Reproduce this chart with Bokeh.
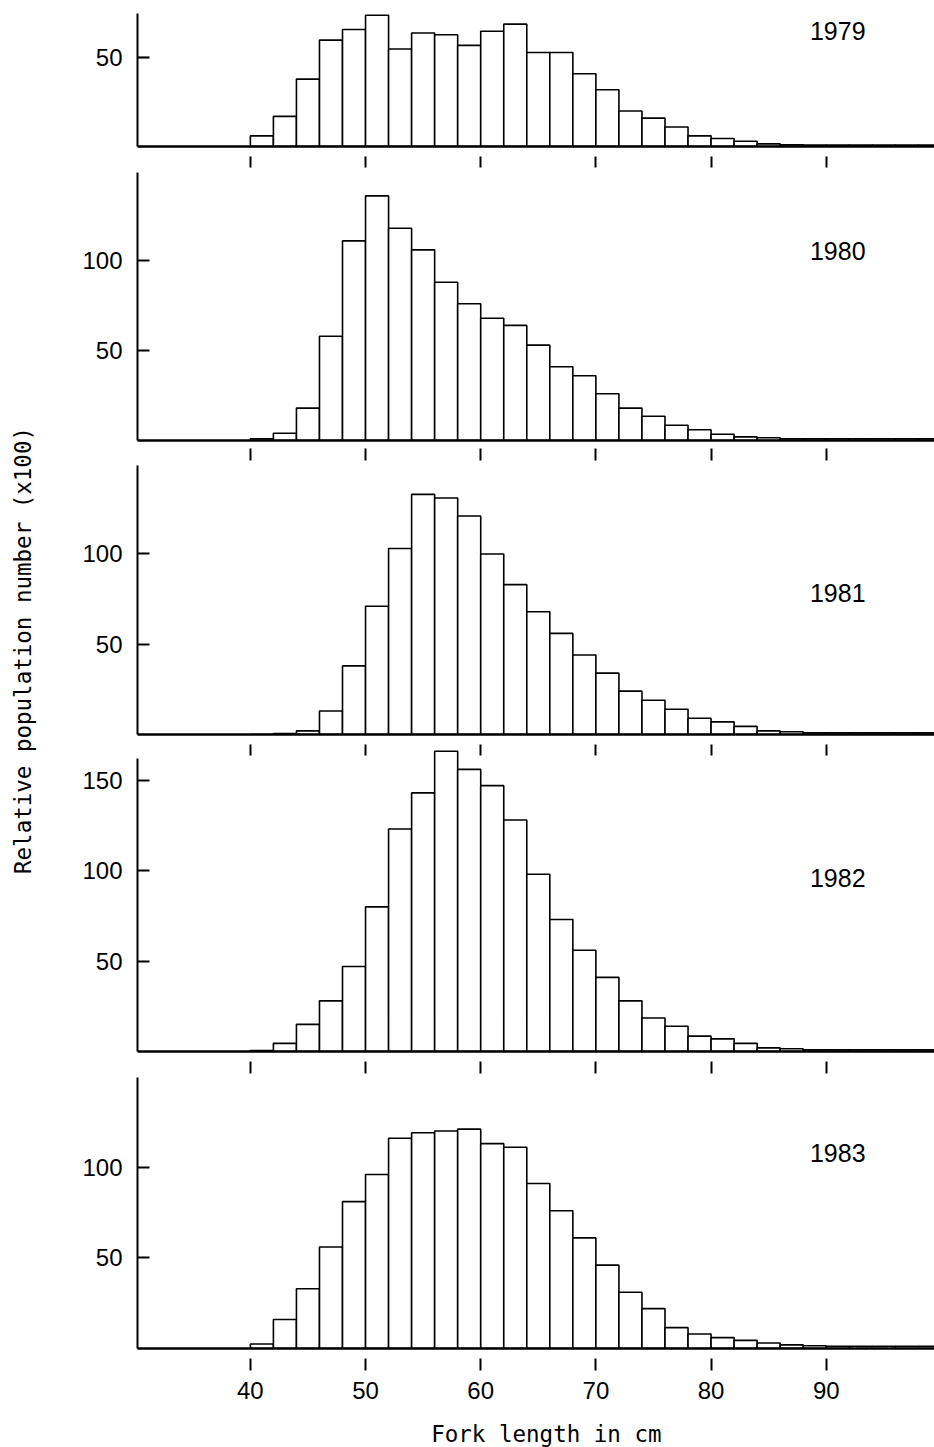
import math
from bokeh.plotting import figure
from bokeh.layouts import column, row
from bokeh.models import (FixedTicker, Label, Range1d, ColumnDataSource, LinearAxis,
                          CustomLabelingPolicy)
from bokeh.embed import file_html
from bokeh.resources import INLINE
from bokeh.core.properties import value

# ---------------- data ----------------
bin_left = list(range(40, 100, 2))   # 2-cm length classes, 40..98
bin_width = 2

years = ["1979", "1980", "1981", "1982", "1983"]

pop_1979 = [6, 17, 38, 60, 66, 74, 55, 64, 63, 57, 65, 69, 53, 53, 41, 32, 20, 16, 11, 6,
            4.5, 3, 1.5, 1, 0.8, 0.8, 0.8, 0.8, 0.8, 0.8]
pop_1980 = [1, 4, 18, 58, 111, 136, 118, 106, 88, 76, 68, 64, 53, 41, 36, 26, 18, 13.5, 8.5, 6,
            3.5, 2, 1.5, 1, 1, 1, 1, 1, 1, 1]
pop_1981 = [0, 0.5, 2, 13, 38, 71, 103, 133, 131, 121, 100, 83, 68, 56, 44, 34, 24, 19, 14, 9,
            7, 4.5, 2, 1.5, 1, 1, 1, 1, 1, 1]
pop_1982 = [0.5, 4.5, 15, 28, 47, 80, 123, 143, 166, 156, 147, 128, 98, 73, 56, 41, 28, 18.5, 14, 8.5,
            7, 4.5, 2, 1.5, 1, 1, 1, 1, 1, 1]
pop_1983 = [2.5, 16, 33, 56, 81, 96, 116, 119, 120, 121, 113, 111, 91, 76, 61, 46, 31, 22, 11.5, 8,
            6, 4.5, 3, 2, 1.5, 1.2, 1.2, 1.2, 1.2, 1.2]

series = [pop_1979, pop_1980, pop_1981, pop_1982, pop_1983]

x_ticks = [40, 50, 60, 70, 80, 90]
y_ticks = [50, 100, 150]
x_label = "Fork length in cm"
y_label = "Relative population number (x100)"

# ---------------- layout (styles / sizes) ----------------
X_START, X_END = 30.2, 99.4
y_end = [75, 149, 149, 167, 149.5]        # range top
y_axis_top = [75, 149, 149, 162, 149.5]   # where the drawn y axis line stops
heights = [152, 294, 294, 317, 353]
border_top = [13, 20, 19, 9, 20]
border_bottom = [6, 6, 6, 6, 62]
# detached tick marks of the panel above, drawn on this panel's top edge: (in, out)
above_ticks = [None, (-5, 16), (-5, 17), (6, 5), (-4, 16)]
year_y = [65, 105.5, 78.5, 95.7, 107.7]
YEAR_X = 91.0
XLABEL_X = 65.7

TICK_FONT = "'Liberation Sans', Arial, sans-serif"
LABEL_W = 53
PANEL_W = 934 - LABEL_W
LEFT_BORDER = 137 - LABEL_W
TOTAL_H = 1447
XLAB_H = TOTAL_H - sum(heights)

HIDE_ALL = """
try { for (let i = 0; i < indices.size; i++) { indices.unset(i); } } catch (e) {}
return indices;
"""

panels = []
for i, (yr, vals) in enumerate(zip(years, series)):
    last = i == len(years) - 1
    p = figure(width=PANEL_W, height=heights[i], output_backend="svg", toolbar_location=None,
               x_range=Range1d(X_START, X_END), y_range=Range1d(0, y_end[i]),
               min_border_left=LEFT_BORDER, min_border_right=0,
               min_border_top=border_top[i], min_border_bottom=border_bottom[i])
    p.outline_line_color = None
    p.grid.visible = False
    p.background_fill_color = "white"
    p.border_fill_color = "white"

    src = ColumnDataSource(dict(left=bin_left,
                                right=[b + bin_width for b in bin_left],
                                top=vals,
                                bottom=[0] * len(vals)))
    p.quad(left="left", right="right", top="top", bottom="bottom", source=src,
           fill_color="white", line_color="black", line_width=1.6)

    # y axis
    ya = p.yaxis[0]
    ya.ticker = FixedTicker(ticks=y_ticks)
    ya.bounds = (0, y_axis_top[i])
    ya.minor_tick_line_color = None
    ya.major_tick_in = 12
    ya.major_tick_out = 0
    ya.major_tick_line_width = 2.2
    ya.axis_line_width = 2
    ya.major_label_standoff = 15
    ya.major_label_text_font = TICK_FONT
    ya.major_label_text_font_size = "24px"
    ya.major_label_text_color = "black"

    # x axis baseline
    xa = p.xaxis[0]
    xa.ticker = FixedTicker(ticks=x_ticks)
    xa.minor_tick_line_color = None
    xa.axis_line_width = 2.4
    if last:
        xa.major_tick_in = -10
        xa.major_tick_out = 22
        xa.major_tick_line_width = 2
        xa.major_label_standoff = 11
        xa.major_label_text_font = TICK_FONT
        xa.major_label_text_font_size = "24px"
        xa.major_label_text_color = "black"
    else:
        xa.major_tick_line_color = None
        xa.major_tick_in = 0
        xa.major_tick_out = 0
        xa.major_label_standoff = 0
        xa.major_label_text_font_size = "0px"
        xa.major_label_policy = CustomLabelingPolicy(code=HIDE_ALL)

    # detached ticks belonging to the panel above
    if above_ticks[i] is not None:
        tin, tout = above_ticks[i]
        ax = LinearAxis(ticker=FixedTicker(ticks=x_ticks))
        ax.axis_line_color = None
        ax.minor_tick_line_color = None
        ax.major_tick_in = tin
        ax.major_tick_out = tout
        ax.major_tick_line_width = 2
        ax.major_label_standoff = 0
        ax.major_label_text_font_size = "0px"
        ax.major_label_policy = CustomLabelingPolicy(code=HIDE_ALL)
        p.add_layout(ax, "above")

    p.add_layout(Label(x=YEAR_X, y=year_y[i], text=yr, text_align="center",
                       text_baseline="middle", text_font=TICK_FONT,
                       text_font_size="25px", text_color="black"))
    panels.append(p)

# strip under the panels holding the x-axis title (frame aligned with the panels)
xlab = figure(width=PANEL_W, height=XLAB_H, output_backend="svg", toolbar_location=None,
              x_range=Range1d(X_START, X_END), y_range=Range1d(0, XLAB_H),
              x_axis_location=None, y_axis_location=None,
              min_border_left=LEFT_BORDER, min_border_right=0,
              min_border_top=0, min_border_bottom=0)
xlab.outline_line_color = None
xlab.grid.visible = False
xlab.text(x=[XLABEL_X], y=[TOTAL_H - 1433], text=[x_label],
          text_align="center", text_baseline="middle",
          text_font=value("DejaVu Sans Mono"), text_font_size="22.5px", text_color="black")

# strip left of the panels holding the y-axis title
lab = figure(width=LABEL_W, height=TOTAL_H, output_backend="svg", toolbar_location=None,
             x_range=Range1d(0, LABEL_W), y_range=Range1d(0, TOTAL_H),
             x_axis_location=None, y_axis_location=None, min_border=0)
lab.outline_line_color = None
lab.grid.visible = False
lab.text(x=[22], y=[TOTAL_H - 650], text=[y_label], angle=math.pi / 2,
         text_align="center", text_baseline="middle",
         text_font=value("DejaVu Sans Mono"), text_font_size="22.5px", text_color="black")

layout = row(lab, column(*panels, xlab, spacing=0), spacing=0)
open("out.html", "w").write(file_html(layout, INLINE))
